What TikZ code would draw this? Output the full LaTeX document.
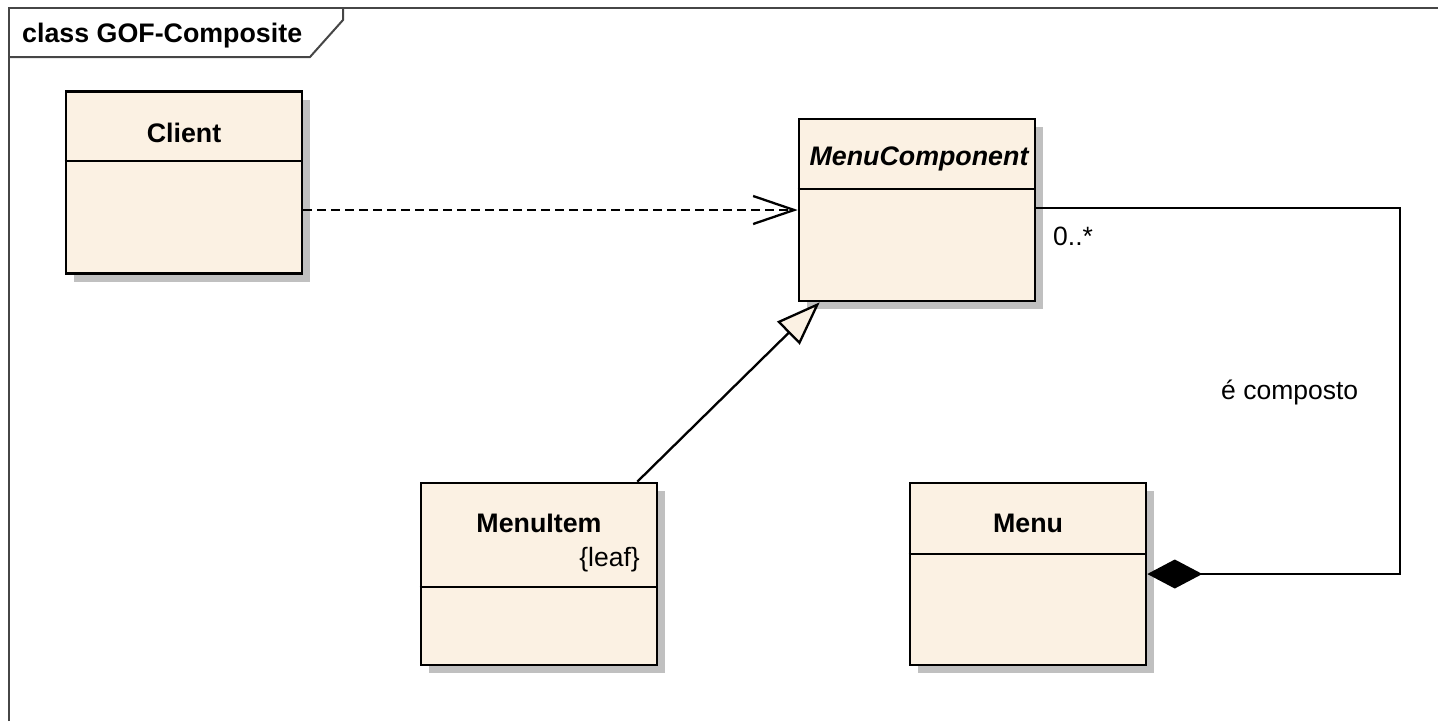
\documentclass[tikz,border=0pt]{standalone}
\usepackage{fontspec}
\setmainfont{Liberation Sans}
\usetikzlibrary{arrows.meta,shadows}
\definecolor{classfill}{RGB}{251,241,227}
\definecolor{shadowgray}{RGB}{192,192,192}
\definecolor{framegray}{RGB}{70,70,70}

\begin{document}
\begin{tikzpicture}[x=1pt,y=-1pt,
  classbox/.style={draw=black, line width=2.6pt, fill=classfill,
    minimum width=236pt, minimum height=182pt, inner sep=0pt,
    general shadow={fill=shadowgray, draw=none, shadow xshift=8pt, shadow yshift=-8pt}},
  divider/.style={draw=black, line width=2.4pt},
  txt/.style={font=\fontsize{26.5}{31}\selectfont, inner sep=0pt, anchor=base},
  clsname/.style={txt, font=\fontsize{26.8}{31}\selectfont\bfseries},
  conn/.style={draw=black, line width=2.3pt},
  dependency/.style={conn, dash pattern=on 9pt off 5pt,
    -{Straight Barb[length=41pt, width=28pt, line width=2.3pt]}},
  generalization/.style={conn,
    -{Triangle[length=44pt, width=32pt, fill=classfill, line width=2.3pt]}},
  composition/.style={conn, {Diamond[length=55pt, width=29pt]}-},
  framestyle/.style={draw=framegray, line width=2pt}
]
\useasboundingbox (0,0) rectangle (1438,721);

% diagram frame with its name tab
\draw[framestyle] (9,721) -- (9,8) -- (1438,8);
\draw[framestyle] (9,57) -- (310,57) -- (343,20) -- (343,8);
\node[clsname, anchor=base west] (title) at (22,42) {class GOF-Composite};

% classes
\node[classbox] (client) at (184,182.5) {};
\node[classbox] (mc) at (917,210) {};
\node[classbox] (item) at (539,574) {};
\node[classbox] (menu) at (1028,574) {};

% compartments
\draw[divider] ([yshift=-71pt]client.north west) -- ([yshift=-71pt]client.north east);
\draw[divider] ([yshift=-71pt]mc.north west) -- ([yshift=-71pt]mc.north east);
\draw[divider] ([yshift=-105pt]item.north west) -- ([yshift=-105pt]item.north east);
\draw[divider] ([yshift=-72pt]menu.north west) -- ([yshift=-72pt]menu.north east);

% class names
\node[clsname] (clientname) at (184,142) {Client};
\node[clsname, font=\fontsize{26.8}{31}\selectfont\bfseries\itshape] (mcname) at (919,165) {MenuComponent};
\node[clsname] (itemname) at (539,532) {MenuItem};
\node[txt, anchor=base east] (leaf) at (640,566) {\{leaf\}};
\node[clsname] (menuname) at (1028,532) {Menu};

% relationships
\draw[dependency] (client.east |- mc.west) -- (mc.west);
\draw[generalization] ([xshift=-21pt]item.north east) -- ([xshift=22pt]mc.south west);
\draw[composition] (menu.east) -- ++(253,0) |- ([yshift=2pt]mc.east);

% association labels
\node[txt, anchor=base west] (mult) at (1053,245) {0..*};
\node[txt, anchor=base west] (assoc) at (1221,399) {é composto};
\end{tikzpicture}
\end{document}
